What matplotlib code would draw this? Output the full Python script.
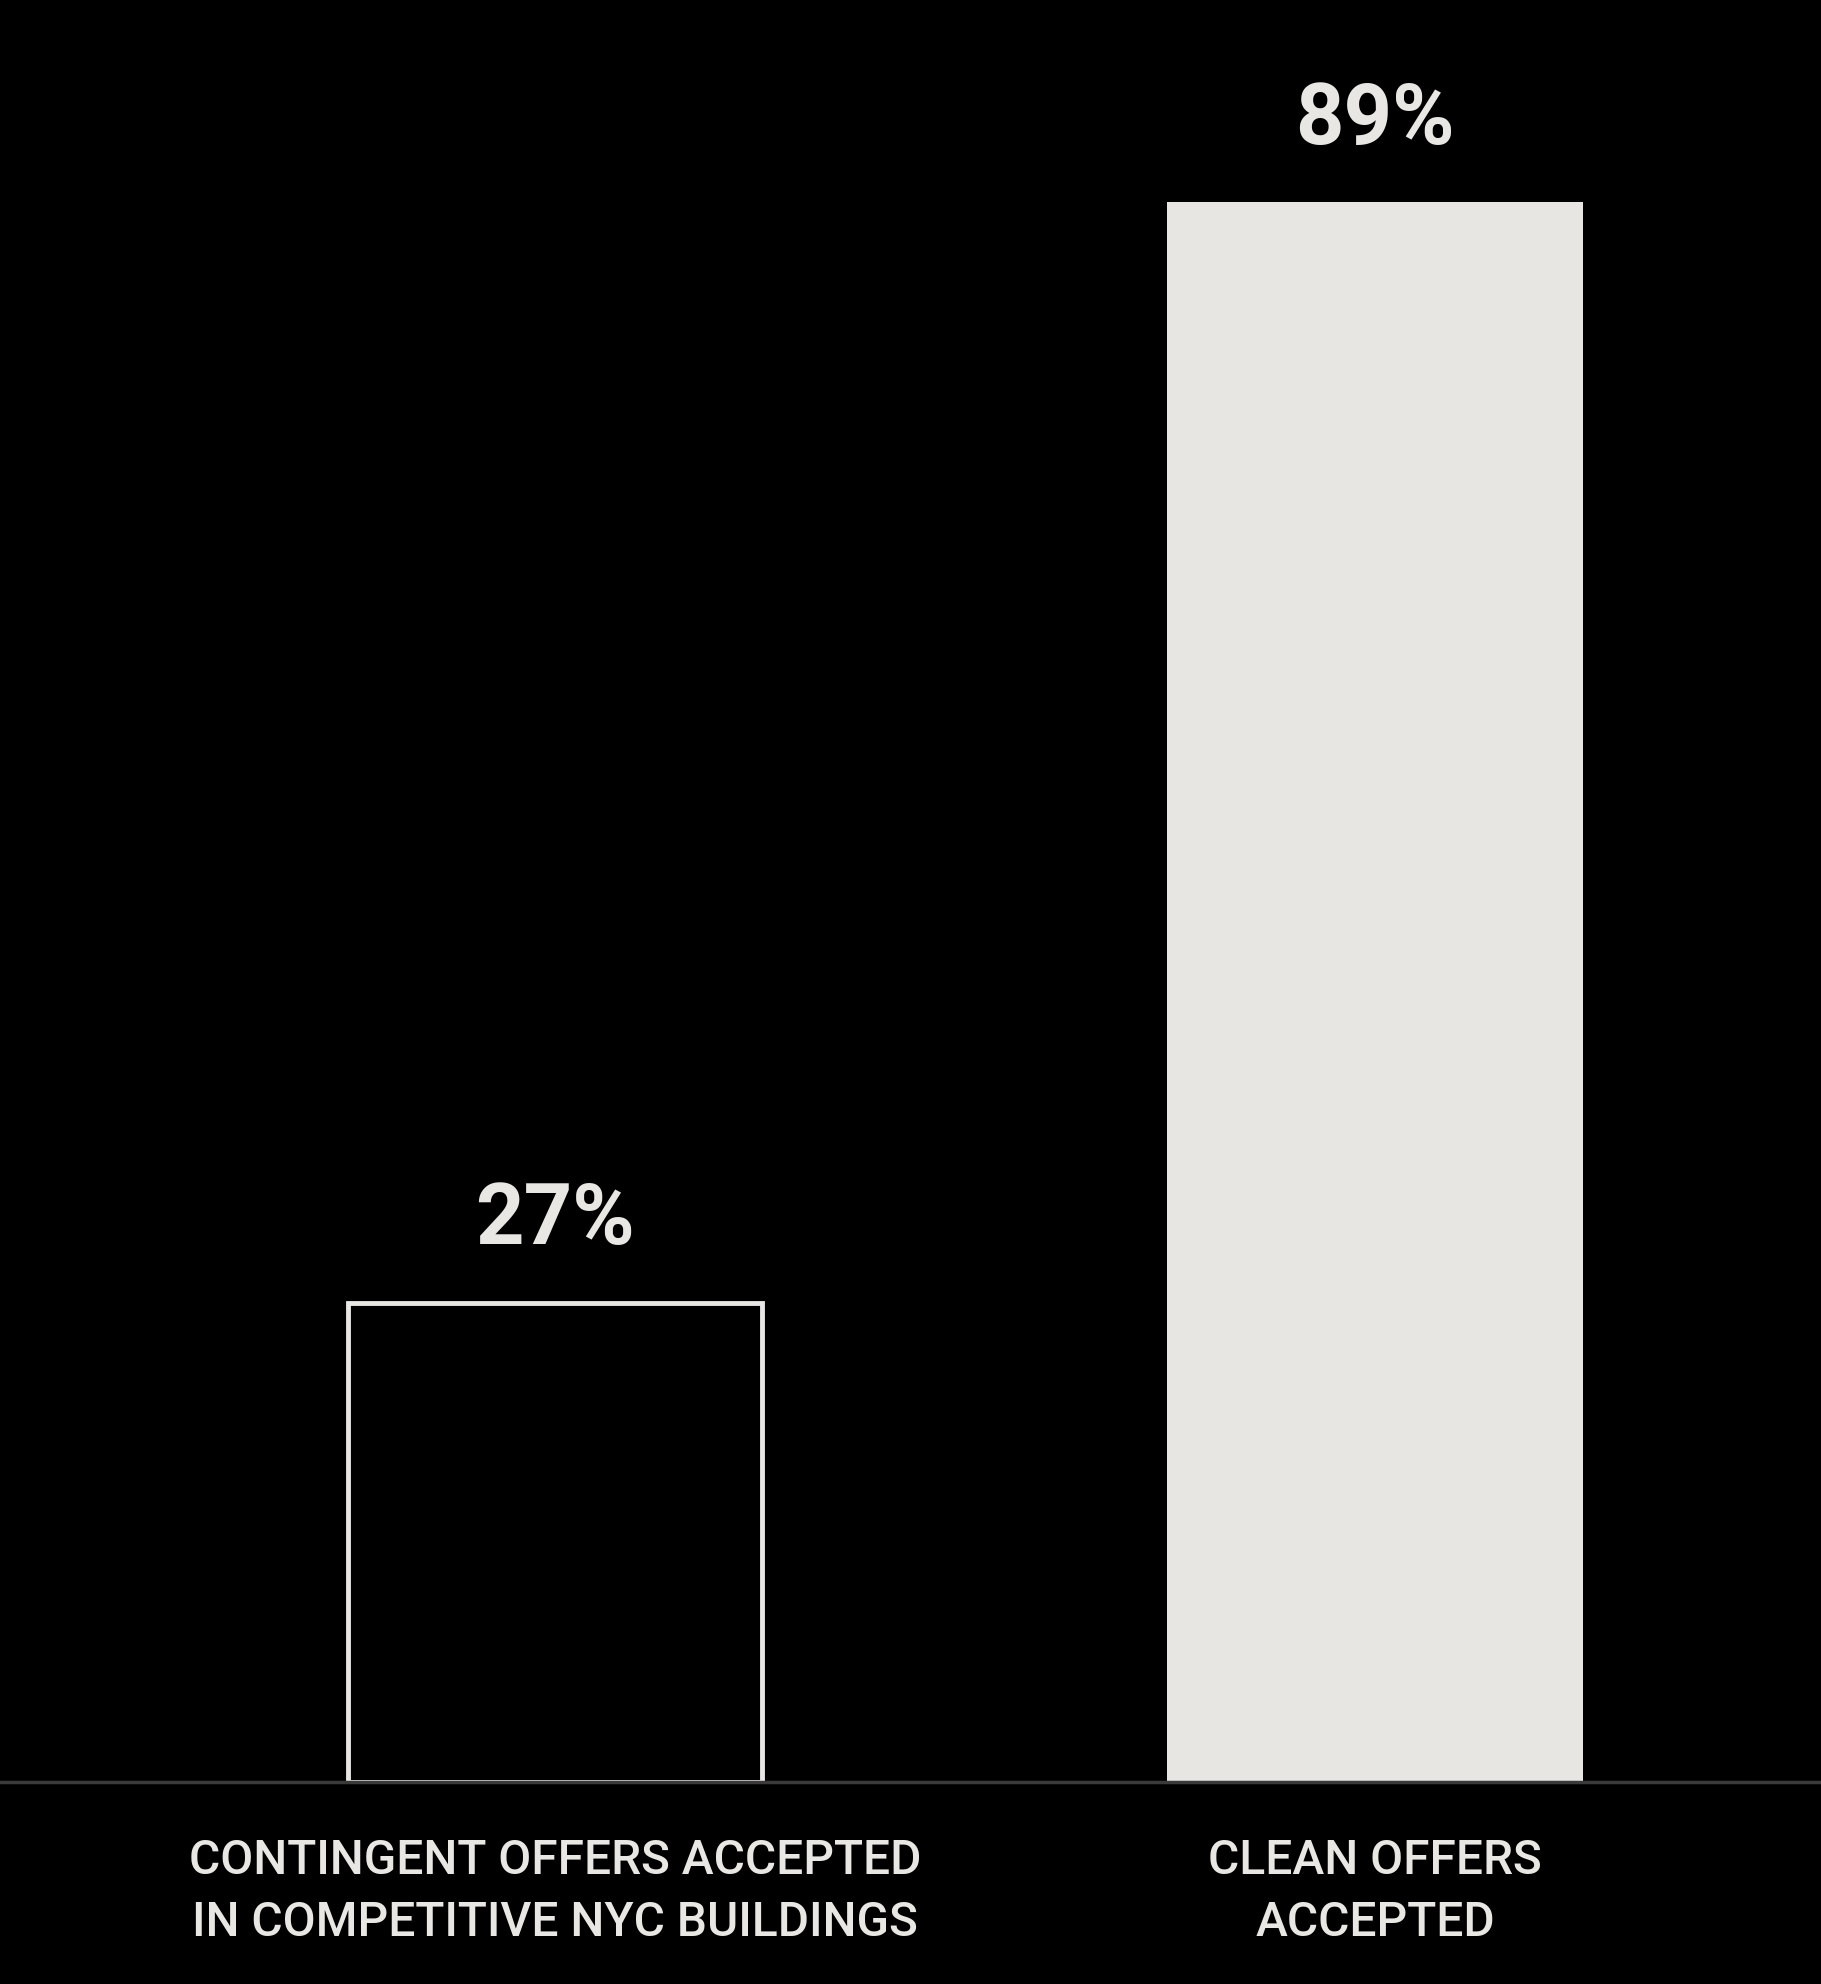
import matplotlib
matplotlib.use("Agg")
import matplotlib.pyplot as plt

# data
categories = ["CONTINGENT OFFERS ACCEPTED\nIN COMPETITIVE NYC BUILDINGS", "CLEAN OFFERS\nACCEPTED"]
values = [27, 89]
value_labels = ["27%", "89%"]

plt.rcParams['font.family'] = ['Roboto', 'DejaVu Sans']
txt_col = "#e9e7e4"

fig = plt.figure(figsize=(18.21, 19.84), dpi=100, facecolor="black")
ax = fig.add_axes([0, 202 / 1984, 1, 1 - 202 / 1984])
ax.set_facecolor("black")

x = [0, 1]
# outlined bar and filled bar
ax.bar(x[0], values[0], width=0.505, facecolor="black", edgecolor=txt_col, linewidth=3.5)
ax.bar(x[1], values[1], width=0.508, color="#e8e6e3", edgecolor="none")

ax.set_xlim(-0.677, 1.544)
ax.set_ylim(0, 100.4)

# baseline
ax.axhline(0, color="#3a3a3a", linewidth=2.5, clip_on=False, zorder=5)

for xi, v, lab in zip(x, values, value_labels):
    ax.annotate(lab, (xi, v), xytext=(0, 42), textcoords="offset points",
                ha="center", va="baseline", fontsize=61, fontweight="bold", color=txt_col)

for xi, c in zip(x, categories):
    ax.text(xi, -6.2, c, ha="center", va="center", fontsize=34.5, color=txt_col,
            fontweight="medium", linespacing=1.45, clip_on=False)

ax.axis("off")
fig.savefig("out.png", dpi=100, facecolor="black")
